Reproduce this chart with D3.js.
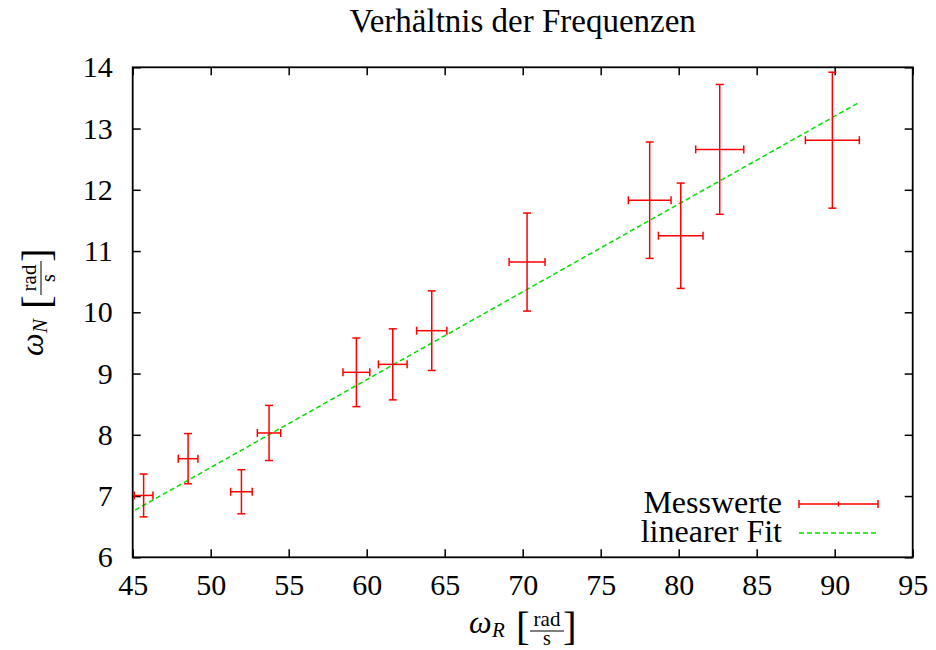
<!DOCTYPE html>
<html>
<head>
<meta charset="utf-8">
<script src="https://cdn.jsdelivr.net/npm/d3@7"></script>
<style>
  body { margin: 0; background: #fff; }
  text { font-family: "Liberation Serif", serif; fill: #000; }
</style>
</head>
<body>
<svg id="chart" width="936" height="650"></svg>
<script>
// measured values (omega_R, omega_N) with errors
var omegaR = [45.7, 48.55, 51.97, 53.74, 59.34, 61.67, 64.17, 70.28, 78.14, 80.13, 82.63, 89.85];
var omegaN = [7.01, 7.61, 7.07, 8.03, 9.02, 9.15, 9.70, 10.82, 11.83, 11.25, 12.66, 12.81];
var errR = [0.6, 0.63, 0.69, 0.75, 0.86, 0.92, 0.97, 1.15, 1.37, 1.43, 1.54, 1.73];
var errN = [0.35, 0.41, 0.36, 0.45, 0.56, 0.58, 0.65, 0.80, 0.95, 0.86, 1.06, 1.11];

// linear fit
var fitSlope = 0.1434;
var fitIntercept = 0.296;
var fitRange = [45.15, 91.5];

var xTicks = [45, 50, 55, 60, 65, 70, 75, 80, 85, 90, 95];
var yTicks = [6, 7, 8, 9, 10, 11, 12, 13, 14];

var legendLabels = ["Messwerte", "linearer Fit"];

const plot = { left: 132.7, right: 912.7, top: 67.3, bottom: 557.3 };

var svg = d3.select("#chart");

var x = d3.scaleLinear().domain([45, 95]).range([plot.left, plot.right]);
var y = d3.scaleLinear().domain([6, 14]).range([plot.bottom, plot.top]);

var data = omegaR.map(function(d, i) {
  return { x: d, y: omegaN[i], ex: errR[i], ey: errN[i] };
});

// title
svg.append("text")
  .attr("x", (plot.left + plot.right) / 2)
  .attr("y", 32)
  .attr("text-anchor", "middle")
  .attr("font-size", 33)
  .text("Verhältnis der Frequenzen");

// axes (ticks inward, mirrored)
function styleAxis(g) {
  g.attr("font-family", null).attr("font-size", null);
  g.select(".domain").remove();
  g.selectAll(".tick line").attr("stroke", "#000").attr("stroke-width", 1.5);
  g.selectAll(".tick text").attr("font-size", 30).attr("fill", "#000");
}

svg.append("g")
  .attr("transform", "translate(0," + plot.bottom + ")")
  .call(d3.axisBottom(x).tickValues(xTicks).tickSizeInner(-8).tickSizeOuter(0).tickPadding(16))
  .call(styleAxis);

svg.append("g")
  .attr("transform", "translate(0," + plot.top + ")")
  .call(d3.axisTop(x).tickValues(xTicks).tickSizeInner(-8).tickSizeOuter(0).tickFormat(""))
  .call(styleAxis);

svg.append("g")
  .attr("transform", "translate(" + plot.left + ",0)")
  .call(d3.axisLeft(y).tickValues(yTicks).tickSizeInner(-8).tickSizeOuter(0).tickPadding(20))
  .call(styleAxis);

svg.append("g")
  .attr("transform", "translate(" + plot.right + ",0)")
  .call(d3.axisRight(y).tickValues(yTicks).tickSizeInner(-8).tickSizeOuter(0).tickFormat(""))
  .call(styleAxis);

// frame
svg.append("rect")
  .attr("x", plot.left)
  .attr("y", plot.top)
  .attr("width", plot.right - plot.left)
  .attr("height", plot.bottom - plot.top)
  .attr("fill", "none")
  .attr("stroke", "#000")
  .attr("stroke-width", 1.8);

// axis labels: omega_sub [rad/s]
function unitLabel(g, sub) {
  g.append("text").attr("x", 0).attr("y", 0)
    .attr("font-size", 32).attr("font-style", "italic").text("ω");
  g.append("text").attr("x", 23).attr("y", 4)
    .attr("font-size", 21).attr("font-style", "italic").text(sub);
  g.append("text").attr("x", 47).attr("y", 7)
    .attr("font-size", 41).text("[");
  g.append("text").attr("x", 78).attr("y", -7)
    .attr("font-size", 21).attr("text-anchor", "middle").text("rad");
  g.append("line").attr("x1", 61).attr("x2", 95).attr("y1", -2).attr("y2", -2)
    .attr("stroke", "#000").attr("stroke-width", 1);
  g.append("text").attr("x", 78).attr("y", 12)
    .attr("font-size", 20).attr("text-anchor", "middle").text("s");
  g.append("text").attr("x", 94).attr("y", 7)
    .attr("font-size", 41).text("]");
}

unitLabel(svg.append("g").attr("transform", "translate(469,633)"), "R");
unitLabel(svg.append("g").attr("transform", "translate(43,356) rotate(-90)"), "N");

// fit line
svg.append("line")
  .attr("x1", x(fitRange[0]))
  .attr("y1", y(fitSlope * fitRange[0] + fitIntercept))
  .attr("x2", x(fitRange[1]))
  .attr("y2", y(fitSlope * fitRange[1] + fitIntercept))
  .attr("stroke", "#00e000")
  .attr("stroke-width", 1.5)
  .attr("stroke-dasharray", "5,3");

// error bars
var cap = 4;
var bars = svg.append("g")
  .attr("stroke", "#ff0000")
  .attr("stroke-width", 1.5)
  .selectAll("g")
  .data(data)
  .enter()
  .append("g");

bars.append("line")
  .attr("x1", function(d) { return x(d.x - d.ex); })
  .attr("x2", function(d) { return x(d.x + d.ex); })
  .attr("y1", function(d) { return y(d.y); })
  .attr("y2", function(d) { return y(d.y); });
bars.append("line")
  .attr("x1", function(d) { return x(d.x); })
  .attr("x2", function(d) { return x(d.x); })
  .attr("y1", function(d) { return y(d.y - d.ey); })
  .attr("y2", function(d) { return y(d.y + d.ey); });
// caps
[-1, 1].forEach(function(s) {
  bars.append("line")
    .attr("x1", function(d) { return x(d.x + s * d.ex); })
    .attr("x2", function(d) { return x(d.x + s * d.ex); })
    .attr("y1", function(d) { return y(d.y) - cap; })
    .attr("y2", function(d) { return y(d.y) + cap; });
  bars.append("line")
    .attr("x1", function(d) { return x(d.x) - cap; })
    .attr("x2", function(d) { return x(d.x) + cap; })
    .attr("y1", function(d) { return y(d.y + s * d.ey); })
    .attr("y2", function(d) { return y(d.y + s * d.ey); });
});

// legend
var legend = svg.append("g");
legend.append("text").attr("x", 782).attr("y", 513)
  .attr("text-anchor", "end").attr("font-size", 32).text(legendLabels[0]);
legend.append("text").attr("x", 782).attr("y", 542)
  .attr("text-anchor", "end").attr("font-size", 32).text(legendLabels[1]);

var lg = legend.append("g").attr("stroke", "#ff0000").attr("stroke-width", 1.5);
lg.append("line").attr("x1", 799).attr("x2", 878).attr("y1", 504).attr("y2", 504);
[799, 838.5, 878].forEach(function(px, i) {
  var h = i === 1 ? 2.5 : cap;
  lg.append("line").attr("x1", px).attr("x2", px).attr("y1", 504 - h).attr("y2", 504 + h);
});
legend.append("line").attr("x1", 799).attr("x2", 878).attr("y1", 533).attr("y2", 533)
  .attr("stroke", "#00e000").attr("stroke-width", 1.5).attr("stroke-dasharray", "5,3");
</script>
</body>
</html>
